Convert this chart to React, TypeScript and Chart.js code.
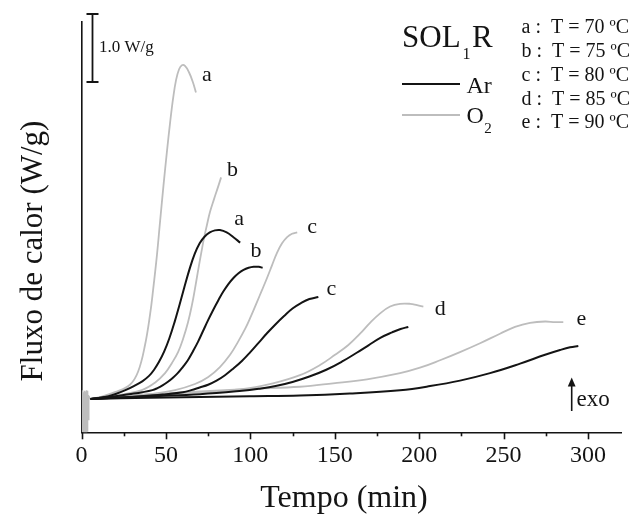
import React, { useEffect, useRef } from "react";
import { Chart, registerables } from "chart.js";

Chart.register(...registerables);

const SERIF = '"Liberation Serif", "Times New Roman", Times, serif';
const INK = "#141414";
const GREY = "#bdbdbd";

// Heat-flow curves, time in min, heat flow in W/g (baseline = 0)
// Argon atmosphere
const arA_t = [5.4, 11, 16, 21, 26, 31, 36, 40, 43, 46, 49, 52, 55, 58, 61, 64, 67, 70, 73, 76, 79, 82, 86, 90, 94];
const arA_v = [0, 0.02, 0.04, 0.08, 0.13, 0.19, 0.26, 0.34, 0.43, 0.55, 0.7, 0.89, 1.12, 1.38, 1.65, 1.91, 2.13, 2.29, 2.39, 2.45, 2.48, 2.485, 2.45, 2.38, 2.3];
const arB_t = [5.4, 12, 20, 28, 36, 42, 45, 48, 51, 54, 57, 60, 63, 66, 69, 72, 75, 78, 81, 84, 87, 90, 93, 96, 99, 102, 105, 107.3];
const arB_v = [0, 0.02, 0.04, 0.07, 0.1, 0.13, 0.16, 0.2, 0.25, 0.31, 0.38, 0.47, 0.57, 0.7, 0.84, 1.0, 1.16, 1.31, 1.45, 1.58, 1.69, 1.78, 1.85, 1.9, 1.93, 1.945, 1.945, 1.93];
const arC_t = [5.4, 20, 35, 48, 60, 65, 70, 75, 80, 85, 90, 95, 100, 105, 110, 115, 120, 125, 130, 135, 140.3];
const arC_v = [0, 0.02, 0.04, 0.065, 0.1, 0.13, 0.17, 0.21, 0.27, 0.35, 0.45, 0.56, 0.69, 0.83, 0.97, 1.1, 1.22, 1.33, 1.41, 1.47, 1.5];
const arD_t = [5.4, 40.6, 70.2, 95, 105, 115, 125, 135, 145, 155, 163, 170, 177, 184, 189, 193.6];
const arD_v = [0, 0.04, 0.07, 0.12, 0.15, 0.19, 0.25, 0.33, 0.43, 0.56, 0.68, 0.79, 0.9, 0.98, 1.03, 1.06];
const arE_t = [5.4, 40.6, 99.8, 129.4, 159, 188.7, 206.5, 224.2, 242, 259.8, 274.6, 283.5, 289.4, 294.3];
const arE_v = [0, 0.02, 0.04, 0.05, 0.08, 0.13, 0.19, 0.27, 0.38, 0.52, 0.65, 0.72, 0.76, 0.78];

// Oxygen atmosphere
const o2A_t = [5.4, 11, 19.8, 28.7, 33.5, 37.6, 40.6, 42.4, 44.7, 46.5, 48.6, 50.7, 52.5, 54.3, 56, 57.8, 59.5, 61.3, 63.6, 66, 67.8];
const o2A_v = [0, 0.03, 0.1, 0.21, 0.4, 0.79, 1.24, 1.6, 2.12, 2.6, 3.15, 3.66, 4.07, 4.43, 4.69, 4.85, 4.91, 4.9, 4.81, 4.66, 4.51];
const o2B_t = [5.4, 11, 22.8, 35.7, 43.5, 49.5, 53.6, 57.2, 60.1, 63.1, 65.4, 67.2, 69, 70.8, 72.6, 74.4, 76.1, 78.5, 80.9, 82.7];
const o2B_v = [0, 0.02, 0.06, 0.13, 0.24, 0.38, 0.53, 0.69, 0.88, 1.13, 1.38, 1.62, 1.88, 2.13, 2.37, 2.57, 2.75, 2.94, 3.12, 3.26];
const o2C_t = [5.4, 22.8, 40.6, 55.4, 67.2, 74.9, 82, 88, 92.7, 96.9, 100.4, 104, 106.9, 109.9, 112.9, 115.8, 118.8, 121.8, 124.7, 127.8];
const o2C_v = [0, 0.03, 0.07, 0.13, 0.22, 0.32, 0.47, 0.65, 0.84, 1.03, 1.22, 1.43, 1.6, 1.78, 1.97, 2.15, 2.29, 2.38, 2.43, 2.45];
const o2D_t = [5.4, 40.6, 70.2, 93.9, 113.4, 129.4, 141.3, 150.2, 157.9, 165, 170.9, 176.9, 182.8, 188.7, 194.7, 198.8, 202.5];
const o2D_v = [0, 0.06, 0.1, 0.14, 0.23, 0.35, 0.5, 0.65, 0.79, 0.96, 1.12, 1.26, 1.36, 1.4, 1.4, 1.38, 1.36];
const o2E_t = [5.4, 40.6, 70.2, 99.8, 129.4, 149, 169.1, 188.7, 200.5, 212.4, 224.2, 236.1, 247.9, 256.8, 265.7, 274.6, 280.5, 285.4];
const o2E_v = [0, 0.07, 0.11, 0.15, 0.18, 0.23, 0.29, 0.38, 0.46, 0.57, 0.69, 0.82, 0.96, 1.06, 1.12, 1.14, 1.13, 1.13];

// Start-up transient when the cell is loaded
const transient_t = [0.3, 0.6, 0.9, 1.2, 1.5, 1.8, 2.1, 2.4, 2.7, 3.0, 3.3, 3.6, 3.9, 4.3, 5.4];
const transient_v = [-0.49, 0.13, -0.48, 0.1, -0.49, 0.12, -0.48, 0.11, -0.49, 0.13, -0.47, 0.12, -0.3, 0.04, 0];

// Axis and annotation values
const X_MIN = 0;
const X_MAX = 320;
const Y_MIN = -0.49;
const Y_MAX = 5.55;
const X_MAJOR = 50;
const X_MINOR = 25;
const SCALE_BAR_WG = 1.0;
const tempLabels = ["a :  T = 70 ºC", "b :  T = 75 ºC", "c :  T = 80 ºC", "d :  T = 85 ºC", "e :  T = 90 ºC"];

type Series = { id: string; gas: "Ar" | "O2"; tag: string; t: number[]; v: number[] };

const series: Series[] = [
  { id: "arA", gas: "Ar", tag: "a", t: arA_t, v: arA_v },
  { id: "arB", gas: "Ar", tag: "b", t: arB_t, v: arB_v },
  { id: "arC", gas: "Ar", tag: "c", t: arC_t, v: arC_v },
  { id: "arD", gas: "Ar", tag: "", t: arD_t, v: arD_v },
  { id: "arE", gas: "Ar", tag: "", t: arE_t, v: arE_v },
  { id: "o2A", gas: "O2", tag: "a", t: o2A_t, v: o2A_v },
  { id: "o2B", gas: "O2", tag: "b", t: o2B_t, v: o2B_v },
  { id: "o2C", gas: "O2", tag: "c", t: o2C_t, v: o2C_v },
  { id: "o2D", gas: "O2", tag: "d", t: o2D_t, v: o2D_v },
  { id: "o2E", gas: "O2", tag: "e", t: o2E_t, v: o2E_v },
];

// Where each curve letter sits relative to the curve's last point (px)
const tagOffsets: Record<string, [number, number]> = {
  arA: [-1, -17.7],
  arB: [-6.7, -10.4],
  arC: [13, -1.7],
  o2A: [11, -11.7],
  o2B: [11.5, -1.3],
  o2C: [15, 0.6],
  o2D: [17, 8.3],
  o2E: [18, 2.7],
};

const toPoints = (t: number[], v: number[]) => t.map((x, i) => ({ x, y: v[i] }));

const decorations = {
  id: "decorations",
  afterDraw(chart: any) {
    const { ctx, scales } = chart;
    const x = scales.x;
    const y = scales.y;
    ctx.save();
    ctx.fillStyle = INK;
    ctx.strokeStyle = INK;

    // x-axis tick marks, long at 50 min, short at 25 min
    ctx.lineWidth = 1.6;
    for (let t = X_MIN; t <= 300; t += X_MINOR) {
      const px = Math.round(x.getPixelForValue(t)) + 0.5;
      const len = t % X_MAJOR === 0 ? 7 : 4;
      ctx.beginPath();
      ctx.moveTo(px, y.bottom);
      ctx.lineTo(px, y.bottom + len);
      ctx.stroke();
    }

    // curve letters
    ctx.font = `22px ${SERIF}`;
    ctx.textAlign = "center";
    ctx.textBaseline = "alphabetic";
    series.forEach((s, i) => {
      const off = tagOffsets[s.id];
      if (!s.tag || !off) return;
      const meta = chart.getDatasetMeta(i);
      const last = meta.data[meta.data.length - 1];
      ctx.fillText(s.tag, last.x + off[0], last.y + off[1]);
    });

    // scale bar: 1.0 W/g
    const barLen = y.getPixelForValue(0) - y.getPixelForValue(SCALE_BAR_WG);
    const bx = 92.5;
    const top = 14;
    ctx.lineWidth = 1.8;
    ctx.beginPath();
    ctx.moveTo(bx, top);
    ctx.lineTo(bx, top + barLen);
    ctx.moveTo(bx - 6, top);
    ctx.lineTo(bx + 6, top);
    ctx.moveTo(bx - 6, top + barLen);
    ctx.lineTo(bx + 6, top + barLen);
    ctx.stroke();
    ctx.font = `17px ${SERIF}`;
    ctx.textAlign = "left";
    ctx.fillText(`${SCALE_BAR_WG.toFixed(1)} W/g`, 99, 52);

    // sample name
    ctx.font = `31px ${SERIF}`;
    ctx.fillText("SOL", 402, 46.7);
    let cx = 402 + ctx.measureText("SOL").width + 2;
    ctx.font = `16px ${SERIF}`;
    ctx.fillText("1", cx, 59);
    cx += ctx.measureText("1").width + 1.5;
    ctx.font = `31px ${SERIF}`;
    ctx.fillText("R", cx, 46.7);

    // atmosphere key
    ctx.lineWidth = 2;
    ctx.strokeStyle = INK;
    ctx.beginPath();
    ctx.moveTo(402, 84);
    ctx.lineTo(460, 84);
    ctx.stroke();
    ctx.strokeStyle = GREY;
    ctx.lineWidth = 1.8;
    ctx.beginPath();
    ctx.moveTo(402, 115);
    ctx.lineTo(460, 115);
    ctx.stroke();
    ctx.font = `24px ${SERIF}`;
    ctx.fillText("Ar", 466.5, 92.7);
    ctx.fillText("O", 466.5, 122.7);
    const ow = ctx.measureText("O").width;
    ctx.font = `15px ${SERIF}`;
    ctx.fillText("2", 466.5 + ow + 0.5, 132.7);

    // temperature list
    ctx.font = `20px ${SERIF}`;
    tempLabels.forEach((txt, i) => ctx.fillText(txt, 521.5, 33.3 + i * 23.75));

    // exo arrow
    ctx.strokeStyle = INK;
    ctx.lineWidth = 1.6;
    ctx.beginPath();
    ctx.moveTo(571.7, 411);
    ctx.lineTo(571.7, 384);
    ctx.stroke();
    ctx.beginPath();
    ctx.moveTo(571.7, 377.5);
    ctx.lineTo(567.8, 386.5);
    ctx.lineTo(575.6, 386.5);
    ctx.closePath();
    ctx.fill();
    ctx.font = `23px ${SERIF}`;
    ctx.fillText("exo", 576.5, 406);

    // axis titles
    ctx.font = `32px ${SERIF}`;
    ctx.textAlign = "center";
    ctx.fillText("Tempo (min)", 344, 507);
    ctx.save();
    ctx.translate(34, 251);
    ctx.rotate(-Math.PI / 2);
    ctx.font = `31px ${SERIF}`;
    ctx.textBaseline = "middle";
    ctx.fillText("Fluxo de calor (W/g)", 0, 0);
    ctx.restore();

    ctx.restore();
  },
};

export default function App() {
  const canvasRef = useRef<HTMLCanvasElement | null>(null);

  useEffect(() => {
    const canvas = canvasRef.current;
    if (!canvas) return;

    const datasets: any[] = series.map((s) => ({
      label: s.id,
      data: toPoints(s.t, s.v),
      borderColor: s.gas === "Ar" ? INK : GREY,
      borderWidth: s.gas === "Ar" ? 2 : 1.8,
      pointRadius: 0,
      tension: 0.4,
      fill: false,
      order: s.gas === "Ar" ? 0 : 1,
    }));
    datasets.push({
      label: "transient",
      data: toPoints(transient_t, transient_v),
      borderColor: GREY,
      borderWidth: 1.5,
      pointRadius: 0,
      tension: 0,
      fill: false,
      order: 2,
    });

    const chart = new Chart(canvas, {
      type: "line",
      data: { datasets },
      plugins: [decorations],
      options: {
        responsive: false,
        animation: false,
        devicePixelRatio: 1,
        layout: { padding: { left: 0, right: 8.3, top: 21.7, bottom: 0 } },
        plugins: { legend: { display: false }, tooltip: { enabled: false } },
        scales: {
          x: {
            type: "linear",
            min: X_MIN,
            max: X_MAX,
            afterFit: (s: any) => {
              s.height = 517 - 432.3;
            },
            grid: { display: false, drawTicks: true, tickLength: 7 },
            border: { display: true, color: INK, width: 1.6 },
            ticks: {
              stepSize: X_MAJOR,
              includeBounds: false,
              autoSkip: false,
              maxRotation: 0,
              padding: 2,
              color: INK,
              font: { family: SERIF, size: 24 },
            },
          },
          y: {
            type: "linear",
            min: Y_MIN,
            max: Y_MAX,
            afterFit: (s: any) => {
              s.width = 81.5;
            },
            grid: { display: false, drawTicks: false },
            border: { display: true, color: INK, width: 1.6 },
            ticks: { display: false },
          },
        },
      } as any,
    });

    return () => chart.destroy();
  }, []);

  return (
    <div style={{ position: "fixed", left: 0, top: 0, width: 630, height: 517, background: "#fff" }}>
      <canvas ref={canvasRef} width={630} height={517} style={{ display: "block" }} />
    </div>
  );
}
